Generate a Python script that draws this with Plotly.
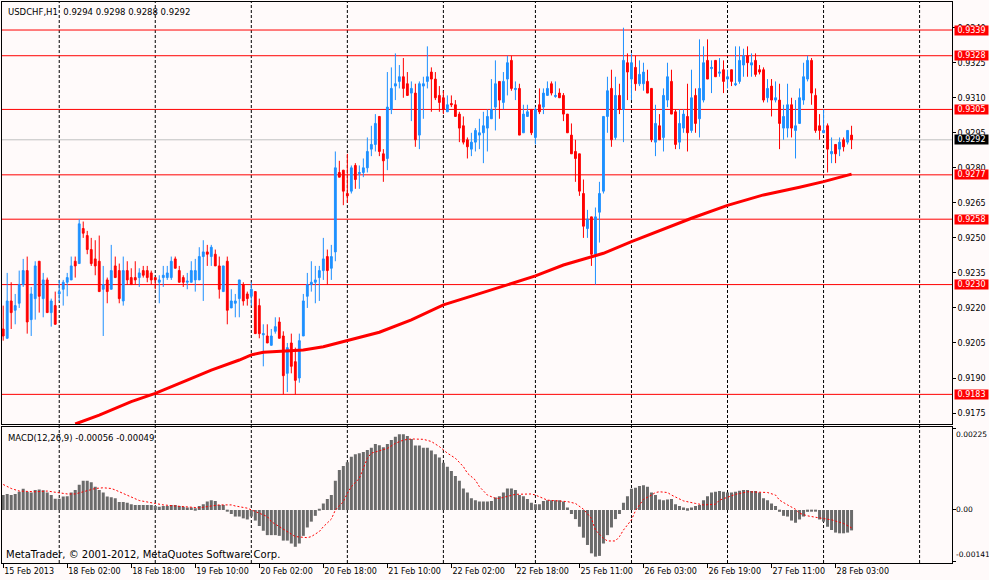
import plotly.graph_objects as go
from plotly.subplots import make_subplots

# USDCHF H1, one candle per bar index (15 Feb 2013 09:00 .. 28 Feb 2013 07:00)
opens = [
    0.9211, 0.9207, 0.9223, 0.9219, 0.9222, 0.9230, 0.9236, 0.9215, 0.9224, 0.9240,
    0.9224, 0.9232, 0.9218, 0.9221, 0.9226, 0.9228, 0.9231, 0.9232, 0.9240, 0.9239,
    0.9254, 0.9251, 0.9245, 0.9241, 0.9240, 0.9228, 0.9232, 0.9228, 0.9238, 0.9236,
    0.9223, 0.9236, 0.9233, 0.9233, 0.9233, 0.9236, 0.9236, 0.9235, 0.9233, 0.9231,
    0.9233, 0.9233, 0.9233, 0.9241, 0.9236, 0.9233, 0.9231, 0.9231, 0.9232, 0.9232,
    0.9242, 0.9244, 0.9242, 0.9243, 0.9238, 0.9227, 0.9240, 0.9220, 0.9222, 0.9224,
    0.9230, 0.9226, 0.9225, 0.9227, 0.9221, 0.92085, 0.9208, 0.9204, 0.9210, 0.9214,
    0.9208, 0.9192, 0.9205, 0.9197, 0.9190, 0.9208, 0.9225, 0.9230, 0.9231, 0.9233,
    0.9236, 0.9242, 0.9237, 0.9244, 0.9278, 0.9279, 0.9269, 0.9270, 0.9281, 0.92775,
    0.9278, 0.9280, 0.9288, 0.9290, 0.9302, 0.9286, 0.9284, 0.9305, 0.9315, 0.9317,
    0.9319, 0.9316, 0.9312, 0.9312, 0.9294, 0.9315, 0.9317, 0.9321, 0.9318, 0.9311,
    0.9310, 0.9304, 0.93075, 0.9307, 0.9303, 0.9298, 0.9292, 0.9288, 0.9291, 0.9294,
    0.9295, 0.9297, 0.9301, 0.9306, 0.9317, 0.9308, 0.9318, 0.9326, 0.93135, 0.9314,
    0.9295, 0.9302, 0.9305, 0.9293, 0.9307, 0.9306, 0.9311, 0.9316, 0.93105, 0.9312,
    0.9311, 0.9303, 0.9294, 0.9287, 0.9286, 0.9269, 0.9254, 0.9259, 0.9243, 0.9261,
    0.9270, 0.9302, 0.9314, 0.9293, 0.9311, 0.9305, 0.9325, 0.9318, 0.9323, 0.9316,
    0.9316, 0.9317, 0.9314, 0.9291, 0.9298, 0.9293, 0.9309, 0.9317, 0.9304, 0.9291,
    0.9297, 0.9302, 0.9296, 0.9311, 0.9301, 0.9309, 0.9326, 0.93225, 0.9326, 0.93205,
    0.9322, 0.9318, 0.9322, 0.93155, 0.9317, 0.9324, 0.9328, 0.9324, 0.9326, 0.9322,
    0.9322, 0.9310, 0.9315, 0.9309, 0.9309, 0.9297, 0.9297, 0.9307, 0.9296, 0.9299,
    0.9309, 0.9318, 0.9326, 0.9311, 0.9298, 0.9295, 0.9298, 0.9286, 0.9290, 0.9288,
    0.9292, 0.9291, 0.9294,
]
highs = [
    0.9221, 0.9235, 0.9231, 0.9226, 0.9236, 0.9241, 0.9242, 0.9229, 0.9240, 0.9240,
    0.9235, 0.9233, 0.9224, 0.9227, 0.9232, 0.9232, 0.9235, 0.9242, 0.9242, 0.9258,
    0.9257, 0.9253, 0.9250, 0.9249, 0.9251, 0.9238, 0.9233, 0.9247, 0.9242, 0.9239,
    0.9242, 0.9240, 0.9237, 0.9240, 0.9237, 0.9238, 0.9238, 0.9236, 0.9233, 0.9234,
    0.9238, 0.9238, 0.9242, 0.9242, 0.9238, 0.9234, 0.9235, 0.9240, 0.9241, 0.9246,
    0.9249, 0.9247, 0.9247, 0.9245, 0.9242, 0.9238, 0.9242, 0.9228, 0.9226, 0.9232,
    0.9231, 0.9227, 0.9231, 0.9227, 0.9224, 0.9213, 0.9213, 0.9211, 0.9216, 0.9216,
    0.9210, 0.9205, 0.9209, 0.9203, 0.9209, 0.9226, 0.9235, 0.9240, 0.9238, 0.9238,
    0.9250, 0.9245, 0.9247, 0.9287, 0.9283, 0.9279, 0.9286, 0.9281, 0.9282, 0.9281,
    0.9284, 0.9293, 0.9298, 0.9303, 0.9302, 0.9288, 0.9321, 0.9323, 0.9329, 0.9324,
    0.9327, 0.9321, 0.9317, 0.9316, 0.9317, 0.9319, 0.9332, 0.9323, 0.9321, 0.9315,
    0.9313, 0.9311, 0.9311, 0.9309, 0.9304, 0.9302, 0.9293, 0.9295, 0.9297, 0.9301,
    0.9304, 0.9305, 0.9318, 0.9326, 0.9317, 0.9321, 0.9328, 0.9328, 0.9317, 0.9316,
    0.9307, 0.9307, 0.9305, 0.9306, 0.9314, 0.9314, 0.9317, 0.9317, 0.9317, 0.9314,
    0.9312, 0.9303, 0.9299, 0.9292, 0.9286, 0.9275, 0.9262, 0.9259, 0.9263, 0.9274,
    0.9302, 0.9319, 0.9322, 0.9319, 0.9316, 0.9340, 0.9329, 0.9329, 0.9328, 0.9326,
    0.9325, 0.9322, 0.9314, 0.9307, 0.9303, 0.9314, 0.9325, 0.9322, 0.9305, 0.9305,
    0.9305, 0.9316, 0.9322, 0.9314, 0.9335, 0.9332, 0.9335, 0.9326, 0.9326, 0.9327,
    0.9326, 0.9322, 0.9322, 0.9332, 0.9332, 0.9331, 0.9332, 0.9329, 0.9329, 0.9324,
    0.9323, 0.9318, 0.9318, 0.9317, 0.9316, 0.9307, 0.9316, 0.9310, 0.9309, 0.9314,
    0.9325, 0.9328, 0.9327, 0.9314, 0.9303, 0.9305, 0.9299, 0.9293, 0.9290, 0.9293,
    0.9293, 0.9296, 0.9298,
]
lows = [
    0.9206, 0.9207, 0.9211, 0.9213, 0.9220, 0.9229, 0.9209, 0.9208, 0.9215, 0.9218,
    0.9216, 0.9218, 0.9212, 0.9213, 0.9223, 0.9221, 0.9225, 0.9232, 0.9233, 0.9239,
    0.9250, 0.9243, 0.9238, 0.9234, 0.9227, 0.9208, 0.9222, 0.9228, 0.9233, 0.9222,
    0.9221, 0.9230, 0.9230, 0.9230, 0.9229, 0.9233, 0.9231, 0.9230, 0.9228, 0.9222,
    0.9229, 0.9232, 0.9232, 0.9237, 0.9231, 0.9229, 0.9228, 0.9231, 0.9227, 0.9232,
    0.9223, 0.9238, 0.9238, 0.9238, 0.9224, 0.9227, 0.9213, 0.9220, 0.9216, 0.9216,
    0.9221, 0.9221, 0.9221, 0.9209, 0.9207, 0.9195, 0.9205, 0.9204, 0.9209, 0.9207,
    0.9183, 0.9184, 0.9192, 0.9183, 0.9188, 0.9208, 0.9220, 0.9227, 0.9222, 0.9223,
    0.9232, 0.9230, 0.9232, 0.9240, 0.9276, 0.9264, 0.9265, 0.9269, 0.9271, 0.9271,
    0.9276, 0.9278, 0.9285, 0.9287, 0.9285, 0.9274, 0.9279, 0.9303, 0.9309, 0.9314,
    0.9310, 0.9311, 0.9300, 0.9289, 0.9288, 0.9301, 0.9314, 0.9304, 0.9309, 0.9304,
    0.9303, 0.9304, 0.9306, 0.9302, 0.9291, 0.9290, 0.9284, 0.9285, 0.9287, 0.9288,
    0.9282, 0.9287, 0.9301, 0.9296, 0.9301, 0.9305, 0.9311, 0.9313, 0.9309, 0.9294,
    0.9295, 0.9302, 0.9294, 0.9290, 0.9303, 0.9303, 0.9311, 0.9311, 0.9310, 0.9310,
    0.9300, 0.9295, 0.9286, 0.9274, 0.9268, 0.9250, 0.9250, 0.9238, 0.9230, 0.9248,
    0.9269, 0.9295, 0.9289, 0.9292, 0.9303, 0.9291, 0.9309, 0.9309, 0.9313, 0.9315,
    0.9313, 0.9312, 0.9291, 0.9285, 0.9292, 0.9287, 0.9306, 0.9303, 0.9288, 0.9288,
    0.9295, 0.9287, 0.9295, 0.9295, 0.9293, 0.9308, 0.9318, 0.9312, 0.9319, 0.9319,
    0.9312, 0.9314, 0.9315, 0.9315, 0.9316, 0.9319, 0.9319, 0.9319, 0.9319, 0.9320,
    0.9308, 0.9308, 0.9302, 0.9308, 0.9288, 0.9292, 0.9293, 0.9293, 0.9284, 0.9299,
    0.9307, 0.9317, 0.9307, 0.9295, 0.9292, 0.9295, 0.9278, 0.9282, 0.9282, 0.9285,
    0.9287, 0.9290, 0.9288,
]
closes = [
    0.9208, 0.9223, 0.9218, 0.9221, 0.9230, 0.9236, 0.9214, 0.9226, 0.9238, 0.9225,
    0.9232, 0.9218, 0.9223, 0.9213, 0.9227, 0.9231, 0.9233, 0.9238, 0.9238, 0.9256,
    0.9252, 0.9245, 0.9239, 0.9238, 0.9227, 0.9230, 0.9227, 0.9236, 0.9233, 0.9224,
    0.9236, 0.9232, 0.9230, 0.9232, 0.9235, 0.9234, 0.9233, 0.9232, 0.9232, 0.9232,
    0.9234, 0.9235, 0.9240, 0.9237, 0.9231, 0.9231, 0.92315, 0.9236, 0.9236, 0.9242,
    0.9244, 0.9243, 0.9246, 0.9238, 0.9228, 0.9238, 0.9219, 0.9223, 0.9223, 0.9232,
    0.9223, 0.9224, 0.9228, 0.9209, 0.9209, 0.9209, 0.9205, 0.9208, 0.9212, 0.9207,
    0.9191, 0.9203, 0.9195, 0.9189, 0.9206, 0.9223, 0.9230, 0.9231, 0.9232, 0.9236,
    0.9241, 0.9236, 0.9242, 0.9280, 0.9276, 0.9270, 0.9268, 0.9280, 0.9275, 0.9278,
    0.9280, 0.9287, 0.9290, 0.9299, 0.9287, 0.9283, 0.9306, 0.9314, 0.9316, 0.9319,
    0.9314, 0.9311, 0.9314, 0.9292, 0.9316, 0.9316, 0.9319, 0.9318, 0.9310, 0.9308,
    0.9305, 0.9307, 0.9307, 0.9302, 0.9297, 0.9291, 0.9289, 0.9291, 0.9296, 0.9295,
    0.9298, 0.9302, 0.9305, 0.9316, 0.9309, 0.9317, 0.9325, 0.9314, 0.9314, 0.9294,
    0.9303, 0.9304, 0.9295, 0.9305, 0.9304, 0.9312, 0.9314, 0.9312, 0.9311, 0.9310,
    0.9303, 0.9295, 0.9286, 0.9284, 0.9270, 0.9255, 0.9258, 0.9243, 0.9259, 0.9269,
    0.9302, 0.9313, 0.9292, 0.9311, 0.9305, 0.9326, 0.9321, 0.9325, 0.9316, 0.9320,
    0.9321, 0.9312, 0.9292, 0.9299, 0.9292, 0.9311, 0.9319, 0.9303, 0.9290, 0.9299,
    0.9303, 0.9295, 0.9310, 0.9299, 0.9314, 0.9325, 0.9318, 0.9323, 0.9319, 0.9321,
    0.9317, 0.9319, 0.9317, 0.9316, 0.9326, 0.9328, 0.9325, 0.9325, 0.9320, 0.9321,
    0.9309, 0.9314, 0.9309, 0.9310, 0.9299, 0.9302, 0.9307, 0.9297, 0.9298, 0.9310,
    0.9319, 0.9326, 0.9312, 0.9296, 0.9296, 0.9296, 0.9288, 0.9287, 0.9286, 0.9291,
    0.9289, 0.9296, 0.9292,
]

# moving average (thick red line), read at selected bars
ma_bars = [18, 24, 32, 38, 46, 52, 59, 62, 65, 72, 75, 80, 86, 94, 102, 110, 118,
           126, 133, 140, 147, 150, 157, 164, 172, 181, 190, 199, 205, 212]
ma_values = [0.91703, 0.91741, 0.91799, 0.91834, 0.91891, 0.91934, 0.91977, 0.91999,
             0.92010, 0.92016, 0.92020, 0.92034, 0.92060, 0.92096, 0.92149, 0.92213,
             0.92256, 0.92299, 0.92337, 0.92384, 0.92420, 0.92434, 0.92484, 0.92531,
             0.92584, 0.92639, 0.92684, 0.92717, 0.92741, 0.92773]

# MACD(12,26,9) main histogram, one value per bar
macd_main = [
    0.00041, 0.00044, 0.00041, 0.00044, 0.00050, 0.00058, 0.00050, 0.00048, 0.00055, 0.00056,
    0.00054, 0.00048, 0.00041, 0.00031, 0.00031, 0.00037, 0.00038, 0.00048, 0.00055, 0.00069,
    0.00080, 0.00080, 0.00076, 0.00064, 0.00055, 0.00048, 0.00037, 0.00035, 0.00032, 0.00022,
    0.00022, 0.00020, 0.00016, 0.00014, 0.00014, 0.00014, 0.00014, 0.00014, 0.00011, 0.00009,
    0.00011, 0.00011, 0.00014, 0.00014, 0.00011, 0.00009, 0.00007, 0.00007, 0.00005, 0.00011,
    0.00016, 0.00023, 0.00027, 0.00025, 0.00014, 0.00014, -0.00002, -0.00011, -0.00018, -0.00018,
    -0.00023, -0.00026, -0.00018, -0.00029, -0.00044, -0.00057, -0.00069, -0.00069, -0.00069, -0.00071,
    -0.00084, -0.00084, -0.00092, -0.00101, -0.00092, -0.00071, -0.00048, -0.00032, -0.00016, 0.00002,
    0.00018, 0.00030, 0.00041, 0.00080, 0.00110, 0.00121, 0.00131, 0.00146, 0.00153, 0.00156,
    0.00159, 0.00165, 0.00171, 0.00181, 0.00178, 0.00172, 0.00181, 0.00192, 0.00201, 0.00208,
    0.00208, 0.00203, 0.00195, 0.00177, 0.00177, 0.00171, 0.00171, 0.00163, 0.00153, 0.00144,
    0.00130, 0.00119, 0.00107, 0.00093, 0.00080, 0.00059, 0.00048, 0.00032, 0.00027, 0.00023,
    0.00023, 0.00023, 0.00025, 0.00034, 0.00038, 0.00048, 0.00059, 0.00059, 0.00055, 0.00041,
    0.00038, 0.00030, 0.00020, 0.00016, 0.00016, 0.00025, 0.00027, 0.00027, 0.00027, 0.00027,
    0.00023, 0.00007, -0.00011, -0.00025, -0.00046, -0.00076, -0.00096, -0.00119, -0.00128, -0.00126,
    -0.00092, -0.00069, -0.00048, -0.00025, -0.00011, 0.00020, 0.00038, 0.00058, 0.00061, 0.00066,
    0.00068, 0.00064, 0.00048, 0.00041, 0.00029, 0.00027, 0.00029, 0.00030, 0.00016, 0.00011,
    0.00007, 0.00005, 0.00007, 0.00011, 0.00014, 0.00027, 0.00038, 0.00048, 0.00050, 0.00052,
    0.00050, 0.00048, 0.00048, 0.00050, 0.00053, 0.00055, 0.00055, 0.00052, 0.00052, 0.00048,
    0.00032, 0.00027, 0.00018, 0.00011, -0.00005, -0.00016, -0.00018, -0.00029, -0.00035, -0.00026,
    -0.00018, -0.00005, -0.00002, -0.00002, -0.00026, -0.00032, -0.00046, -0.00055, -0.00062, -0.00064,
    -0.00064, -0.00062, -0.00056,
]

# MACD signal line (red dotted), read at selected bars
signal_bars = [0, 2, 4, 8, 11, 13, 16, 18, 21, 23, 25, 27, 28, 30, 32, 34, 38, 40, 43, 47,
               49, 52, 54, 57, 58, 61, 63, 66, 67, 69, 71, 73, 76, 77, 79, 80, 82, 83, 85, 86,
               87, 89, 90, 91, 92, 94, 96, 98, 100, 102, 105, 107, 109, 111, 113, 115, 116, 118, 119, 121,
               123, 124, 126, 128, 132, 133, 136, 138, 141, 143, 145, 147, 148, 150, 151, 153, 154, 155, 157, 158,
               159, 160, 162, 163, 164, 166, 167, 170, 173, 175, 178, 179, 181, 183, 186, 188, 191, 193, 194, 196,
               198, 199, 201, 203, 205, 207, 210, 212]
signal_values = [0.00070, 0.00059, 0.00052, 0.00050, 0.00052, 0.00048, 0.00044, 0.00044, 0.00052, 0.00059,
                 0.00061, 0.00059, 0.00055, 0.00046, 0.00035, 0.00026, 0.00018, 0.00014, 0.00011, 0.00007,
                 0.00006, 0.00011, 0.00014, 0.00014, 0.00011, 0.00005, -0.00005, -0.00018, -0.00032, -0.00046,
                 -0.00059, -0.00073, -0.00076, -0.00073, -0.00059, -0.00046, -0.00025, 0.00000, 0.00023, 0.00046,
                 0.00064, 0.00087, 0.00114, 0.00142, 0.00156, 0.00163, 0.00169, 0.00183, 0.00192, 0.00195,
                 0.00194, 0.00188, 0.00174, 0.00156, 0.00142, 0.00119, 0.00101, 0.00082, 0.00064, 0.00041,
                 0.00032, 0.00032, 0.00037, 0.00043, 0.00044, 0.00041, 0.00027, 0.00025, 0.00023, 0.00018,
                 0.00002, -0.00023, -0.00055, -0.00078, -0.00085, -0.00085, -0.00073, -0.00055, -0.00027, -0.00002,
                 0.00014, 0.00029, 0.00041, 0.00048, 0.00050, 0.00048, 0.00041, 0.00025, 0.00018, 0.00014,
                 0.00016, 0.00027, 0.00035, 0.00043, 0.00050, 0.00050, 0.00048, 0.00041, 0.00027, 0.00014,
                 0.00002, -0.00009, -0.00016, -0.00020, -0.00023, -0.00027, -0.00037, -0.00049]

# horizontal levels drawn on the chart and the current bid
levels = [0.9339, 0.9328, 0.9305, 0.9277, 0.9258, 0.9230, 0.9183]
bid = 0.9292

price_ticks = [0.9175, 0.9190, 0.9205, 0.9220, 0.9235, 0.9250, 0.9265, 0.9280,
               0.9295, 0.9310, 0.9325, 0.9340]
macd_ticks = [0.00225, 0.0, -0.00141]
macd_tick_text = ["0.00225", "0.00", "-0.00141"]
macd_tick_anchor = ["top", "middle", "bottom"]

# time axis: label bars and day separators
label_bars = [0, 16, 32, 48, 64, 80, 96, 112, 128, 144, 160, 176, 192, 208]
time_labels = ["15 Feb 2013", "18 Feb 02:00", "18 Feb 18:00", "19 Feb 10:00",
               "20 Feb 02:00", "20 Feb 18:00", "21 Feb 10:00", "22 Feb 02:00",
               "22 Feb 18:00", "25 Feb 11:00", "26 Feb 03:00", "26 Feb 19:00",
               "27 Feb 11:00", "28 Feb 03:00"]
day_start_bars = [14, 38, 62, 86, 110, 133, 157, 181, 205, 229]

symbol_title = "USDCHF,H1  0.9294 0.9298 0.9288 0.9292"
macd_title = "MACD(12,26,9) -0.00056 -0.00049"
copyright_text = "MetaTrader, \u00a9 2001-2012, MetaQuotes Software Corp."

BG = "#FFFAFA"
BLUE = "#1E90FF"
RED = "#FF0000"
FONT = "DejaVu Sans"

bars = list(range(len(opens)))

fig = make_subplots(rows=2, cols=1, shared_xaxes=True)

# moving average goes under the candles, as in the terminal
fig.add_trace(go.Scatter(x=ma_bars, y=ma_values, mode="lines",
                         line=dict(color=RED, width=3), hoverinfo="skip"), row=1, col=1)

fig.add_trace(go.Candlestick(
    x=bars, open=opens, high=highs, low=lows, close=closes,
    increasing=dict(line=dict(color=BLUE, width=1), fillcolor=BLUE),
    decreasing=dict(line=dict(color=RED, width=1), fillcolor=RED),
    whiskerwidth=0, hoverinfo="skip"), row=1, col=1)

fig.add_trace(go.Bar(x=bars, y=macd_main, width=0.75,
                     marker=dict(color="#6B6B6B", line=dict(width=0)),
                     hoverinfo="skip"), row=2, col=1)

fig.add_trace(go.Scatter(x=signal_bars, y=signal_values, mode="lines",
                         line=dict(color=RED, width=1, dash="2px,2px"),
                         hoverinfo="skip"), row=2, col=1)

xrange = [-0.3, 237.1]
axis_line = dict(showline=True, mirror=True, linecolor="black", linewidth=1,
                 showgrid=False, zeroline=False, automargin=False)

fig.update_layout(
    width=989, height=580,
    margin=dict(l=2, r=37, t=2, b=17, autoexpand=False),
    paper_bgcolor=BG, plot_bgcolor=BG,
    showlegend=False,
    font=dict(family=FONT, size=8, color="black"),
    boxgap=0.35,
    xaxis=dict(range=xrange, showticklabels=False, ticks="",
               rangeslider=dict(visible=False), **axis_line),
    xaxis2=dict(range=xrange, tickvals=label_bars, ticktext=time_labels,
                ticks="outside", ticklen=4, tickcolor="black",
                ticklabelposition="outside right", **axis_line),
    yaxis=dict(domain=[0.2469, 1], range=[0.91701, 0.93510], side="right",
               tickvals=price_ticks, ticktext=["%.4f" % v for v in price_ticks],
               ticks="outside", ticklen=3, tickcolor="black", **axis_line),
    yaxis2=dict(domain=[0, 0.243], range=[-0.001455, 0.002287], side="right",
                tickvals=macd_ticks, showticklabels=False,
                ticks="outside", ticklen=3, tickcolor="black", **axis_line),
)

# MACD scale labels sit inside the window edges, like the terminal draws them
for v, txt, anchor in zip(macd_ticks, macd_tick_text, macd_tick_anchor):
    fig.add_annotation(xref="paper", yref="y2", x=1, y=v, xanchor="left", yanchor=anchor,
                       xshift=2, text=txt, showarrow=False,
                       font=dict(size=7.5, family=FONT))

# day separators through both panels
for b in day_start_bars:
    fig.add_shape(type="line", xref="x", yref="paper", x0=b, x1=b, y0=0, y1=1,
                  line=dict(color="black", width=1, dash="3px,2px"), layer="below")

# level lines with their price tags
for lv in levels:
    fig.add_shape(type="line", xref="paper", yref="y", x0=0, x1=1, y0=lv, y1=lv,
                  line=dict(color=RED, width=1), layer="below")
    fig.add_annotation(xref="paper", yref="y", x=1, y=lv, xanchor="left", xshift=2,
                       text="%.4f" % lv, showarrow=False, bgcolor=RED, width=33,
                       borderpad=0, font=dict(color="white", size=8, family=FONT))

fig.add_shape(type="line", xref="paper", yref="y", x0=0, x1=1, y0=bid, y1=bid,
              line=dict(color="#C0C0C0", width=1), layer="below")
fig.add_annotation(xref="paper", yref="y", x=1, y=bid, xanchor="left", xshift=2,
                   text="%.4f" % bid, showarrow=False, bgcolor="black", width=33,
                   borderpad=0, font=dict(color="white", size=8, family=FONT))

fig.add_annotation(xref="paper", yref="paper", x=0, y=1, xanchor="left", yanchor="top",
                   xshift=4, yshift=-3, text=symbol_title, showarrow=False,
                   font=dict(size=8.5, family=FONT))
fig.add_annotation(xref="paper", yref="paper", x=0, y=0.243, xanchor="left", yanchor="top",
                   xshift=4, yshift=-4, text=macd_title, showarrow=False,
                   font=dict(size=8.5, family=FONT))
fig.add_annotation(xref="paper", yref="paper", x=0, y=0, xanchor="left", yanchor="bottom",
                   xshift=2, yshift=1, text=copyright_text, showarrow=False,
                   font=dict(size=10, family=FONT))

# the page's default body margin would shift the whole figure by 8px
fig.write_html("out.html", config={"displayModeBar": False},
               post_script="document.body.style.margin='0';")
